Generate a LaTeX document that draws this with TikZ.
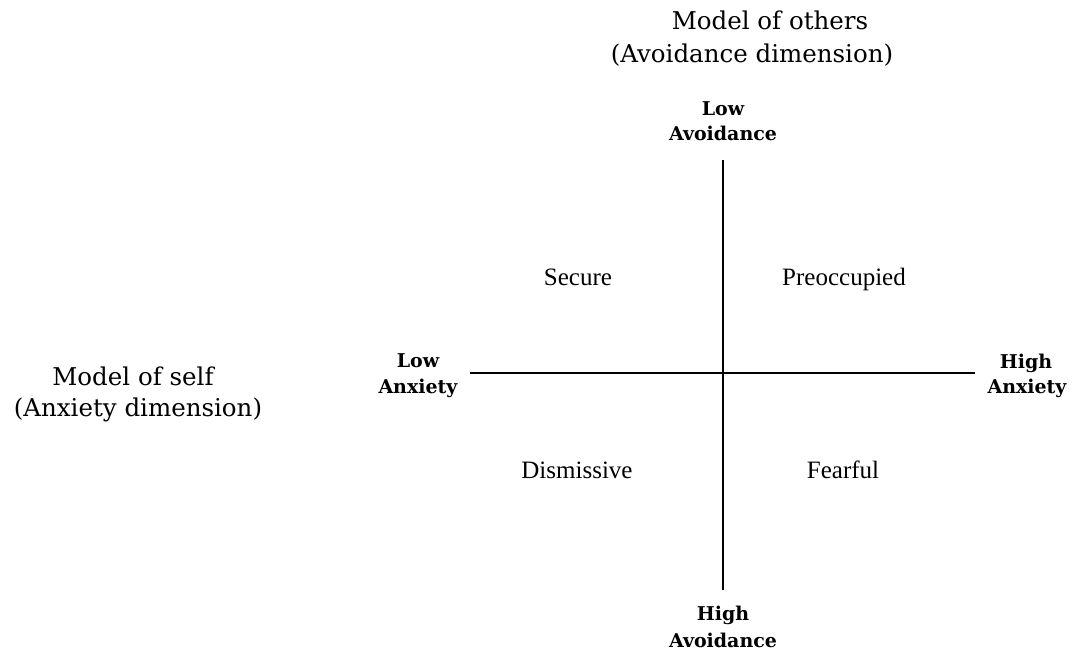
\documentclass[tikz,border=0pt]{standalone}
\usepackage{fontspec}
\setmainfont{DejaVu Serif}
\newfontfamily\quadfont{Liberation Serif}
\begin{document}
\begin{tikzpicture}[x=1pt,y=-1pt,
  title/.style={anchor=base,inner sep=0pt,font=\fontsize{24.5}{29}\selectfont},
  pole/.style={anchor=base,inner sep=0pt,font=\bfseries\fontsize{19}{22}\selectfont},
  quad/.style={anchor=base,inner sep=0pt,font=\quadfont\fontsize{25}{30}\selectfont},
  axis/.style={line width=1.3pt,black}]
\useasboundingbox (0,0) rectangle (1073,653);
\node[title] (ot1) at (770,29) {Model of others};
\node[title] (ot2) at (752,62) {(Avoidance dimension)};
\node[title] (se1) at (133,385) {Model of self};
\node[title] (se2) at (138,416) {(Anxiety dimension)};
\node[pole] (la1) at (723,115) {Low};
\node[pole] (la2) at (723,140) {Avoidance};
\node[pole] (ha1) at (723,620) {High};
\node[pole] (ha2) at (723,647) {Avoidance};
\node[pole] (lx1) at (418,367) {Low};
\node[pole] (lx2) at (418,393) {Anxiety};
\node[pole] (hx1) at (1026,368) {High};
\node[pole] (hx2) at (1027,393) {Anxiety};
\node[quad] (sec) at (578,285) {Secure};
\node[quad] (pre) at (844,285) {Preoccupied};
\node[quad] (dis) at (577,478) {Dismissive};
\node[quad] (fea) at (843,478) {Fearful};
\coordinate (vt) at (723,160);
\coordinate (vb) at (723,590);
\coordinate (hl) at (470,373);
\coordinate (hr) at (975,373);
\draw[axis] (vt) -- (vb);
\draw[axis] (hl) -- (hr);
\end{tikzpicture}
\end{document}
